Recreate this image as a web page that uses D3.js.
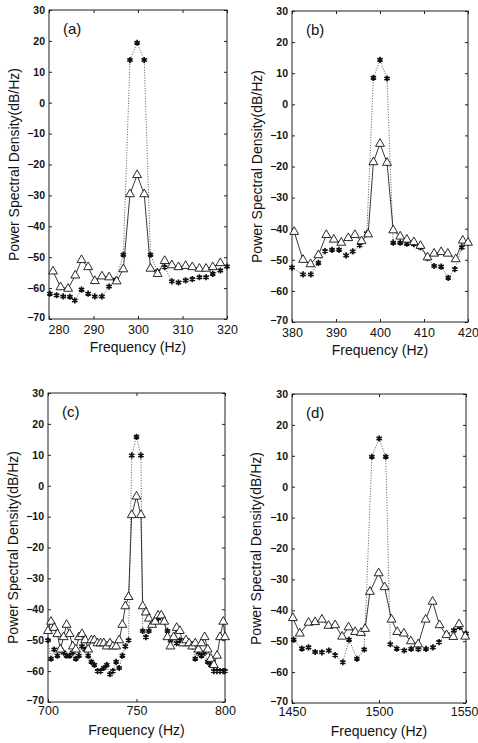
<!DOCTYPE html>
<html>
<head>
<meta charset="utf-8">
<script src="https://cdn.jsdelivr.net/npm/d3@7"></script>
<style>
  body { margin: 0; background: #fff; }
  svg { display: block; font-family: Arial, "Liberation Sans", sans-serif; }
</style>
</head>
<body>
<div id="chart"></div>
<script>
// tick values
var yTicks = [-70, -60, -50, -40, -30, -20, -10, 0, 10, 20, 30];
var xTicksA = [280, 290, 300, 310, 320];
var xTicksB = [380, 390, 400, 410, 420];
var xTicksC = [700, 750, 800];
var xTicksD = [1450, 1500, 1550];

// (a) 300 Hz
var aTriFreq = [280.9, 282.6, 284.3, 285.9, 287.3, 288.8, 290.3, 291.9, 293.5, 295.2, 296.7, 298.2, 299.8, 301.4, 302.8, 304.4, 306, 307.6, 309.1, 310.7, 312.2, 313.8, 315.3, 316.8, 318.5];
var aTriDb   = [-54.6, -59.7, -60.2, -55.9, -50.9, -53.2, -57.7, -56.2, -56.5, -57.8, -53.9, -29.6, -23.4, -29.6, -53.7, -55.4, -51.2, -52.6, -53.2, -52.8, -53.2, -53.7, -53.7, -53.2, -51.9];
var aStarFreq = [280.2, 281.7, 283.2, 284.7, 285.8, 287.3, 288.8, 290.3, 291.9, 293.5, 295, 296.7, 298.2, 299.8, 301.4, 302.8, 304.4, 306, 307.6, 309.1, 310.7, 312.2, 313.8, 315.3, 316.8, 318.5, 320];
var aStarDb   = [-61.8, -62.3, -62.7, -62.8, -64, -60.5, -61.8, -62.7, -62.7, -59.5, -57.3, -49.2, 13.8, 19.4, 13.8, -49.2, -54.6, -53.2, -57.8, -58.2, -57.5, -57.1, -56.5, -56.5, -55.4, -54.3, -53];

// (b) 400 Hz
var bTriFreq = [380.5, 382.5, 384.2, 386, 387.8, 389.5, 391.2, 392.8, 394.3, 395.8, 397.3, 398.5, 400, 401.6, 403, 404.6, 406.1, 407.7, 409.2, 410.8, 412.3, 413.9, 415.4, 417.2, 418.8, 420];
var bTriDb   = [-41, -50, -51.4, -48.5, -42, -43.5, -44.5, -43, -42, -44, -41.8, -18.6, -12.7, -18.8, -40.5, -42.5, -43.5, -44.3, -45.5, -49.2, -48, -47.5, -48, -49.8, -43.8, -44.5];
var bStarFreq = [380, 382.5, 384.3, 386, 387.5, 389.1, 390.7, 392.3, 393.8, 395.4, 397, 398.5, 400, 401.6, 403, 404.6, 406.1, 407.7, 409.2, 410.8, 412.3, 413.9, 415.5, 417, 418.6, 420];
var bStarDb   = [-52.5, -54.7, -54.7, -51, -47.2, -46.8, -46.8, -48.6, -47.3, -45.3, -41.5, 8.5, 14.3, 8.3, -44.5, -44.5, -44.8, -45, -46, -49.5, -52, -52.2, -55.8, -53, -46, -44.5];

// (c) 750 Hz
var cFreq = [700, 701.7, 703.5, 705.3, 707, 708.8, 710.5, 712.2, 714, 715.7, 717.5, 719.2, 721, 722.7, 724.5, 726.2, 728, 729.7, 731.5, 733.2, 735, 736.7, 738.5, 740.2, 742, 743.7, 745.5, 747.3, 750, 752.5, 753.5, 755.3, 757, 758.8, 760.5, 762.2, 764, 765.7, 767.5, 769.2, 771, 772.7, 774.5, 776.2, 778, 779.7, 781.5, 783.2, 785, 786.7, 788.5, 790.2, 792, 793.7, 795.5, 797.2, 799, 800];
var cTriDb  = [-47, -44, -46, -48, -53, -49, -45, -48, -52, -53, -49, -48, -50, -53, -50, -50, -51, -51, -51, -52, -51, -52, -52, -50, -45, -39, -36, -9.5, -3.5, -9.5, -39, -41, -43, -45, -44, -42, -42, -44, -49, -52, -49, -46, -47, -51, -50, -51, -52, -51, -53, -51, -49, -53, -56, -58, -55, -49, -44, -49];
var cStarDb = [-50, -56, -53, -55, -53, -54, -55, -55, -54, -56, -55, -52, -53, -55, -57, -58, -60, -60, -59, -58, -61, -60, -57, -59, -55, -52, -50, 9.8, 15.8, 9.8, -47, -49, -47, -45, -44, -43, -42, -44, -47, -50, -49, -51, -50, -51, -50, -51, -52, -56, -54, -55, -54, -57, -58, -60, -60, -60, -60, -60];

// (d) 1500 Hz
var dTriFreq = [1450.5, 1454.5, 1459.5, 1463.3, 1467.2, 1471, 1474.8, 1478.8, 1482.5, 1486.3, 1489.6, 1492, 1494.8, 1499.8, 1503.2, 1507.2, 1510.5, 1514.3, 1518.3, 1522.5, 1526.8, 1530.8, 1534.8, 1538.8, 1542.7, 1546, 1549.5];
var dTriDb   = [-42.5, -47.5, -44, -43.8, -43, -45, -44.8, -48.5, -45.5, -47, -47.3, -46, -34, -28, -32.5, -43, -47, -47.5, -50, -51, -43, -37.2, -44.8, -48, -48.6, -44.5, -48.5];
var dStarFreq = [1451, 1455.7, 1459.5, 1463.3, 1467.2, 1471.2, 1474.8, 1479.2, 1482.8, 1487.3, 1491.5, 1495.9, 1500.1, 1503.9, 1506.5, 1510.2, 1514.5, 1518.5, 1522.6, 1527, 1531, 1534.5, 1539, 1543, 1546.5, 1550];
var dStarDb   = [-49.5, -52.4, -52, -53.5, -53.6, -53, -54.5, -56.8, -49.5, -55.7, -52.7, 9.7, 15.6, 9.7, -51, -52.4, -53, -52.5, -52.6, -52.5, -52, -50.3, -47.8, -46.5, -45.5, -47.5];

var width = 478, height = 743;

var svg = d3.select("#chart").append("svg")
    .attr("width", width)
    .attr("height", height);

var panels = [
    {label: "(a)", x0: 49, x1: 227, y0: 10, y1: 319, dom: [280, 320], ticks: xTicksA,
     tri: [aTriFreq, aTriDb], star: [aStarFreq, aStarDb], titleX: 14},
    {label: "(b)", x0: 292, x1: 468, y0: 11, y1: 322, dom: [380, 420], ticks: xTicksB,
     tri: [bTriFreq, bTriDb], star: [bStarFreq, bStarDb], titleX: 257},
    {label: "(c)", x0: 48, x1: 225, y0: 393, y1: 702, dom: [700, 800], ticks: xTicksC,
     tri: [cFreq, cTriDb], star: [cFreq, cStarDb], titleX: 13},
    {label: "(d)", x0: 292, x1: 466, y0: 394, y1: 703, dom: [1450, 1550], ticks: xTicksD,
     tri: [dTriFreq, dTriDb], star: [dStarFreq, dStarDb], titleX: 256}
];

function zipPts(f, v) {
    return f.map(function(d, i) { return [d, v[i]]; });
}

panels.forEach(function(p, pi) {
    var x = d3.scaleLinear().domain(p.dom).range([p.x0, p.x1]);
    var y = d3.scaleLinear().domain([-70, 30]).range([p.y1, p.y0]);
    var g = svg.append("g");

    // frame
    g.append("rect")
        .attr("x", p.x0).attr("y", p.y0)
        .attr("width", p.x1 - p.x0).attr("height", p.y1 - p.y0)
        .attr("fill", "none").attr("stroke", "#222").attr("stroke-width", 1);

    // axes, ticks pointing inward
    var left = g.append("g")
        .attr("transform", "translate(" + p.x0 + ",0)")
        .call(d3.axisLeft(y).tickValues(yTicks).tickSize(-3).tickPadding(4));
    left.selectAll("text").style("font-size", "10.5px").style("font-weight", "bold").attr("fill", "#111");
    // pull the bottom label up a touch so it clears the frequency ticks
    left.selectAll("text").filter(function(d) { return d === -70; }).attr("dy", "0.1em");

    g.append("g")
        .attr("transform", "translate(" + p.x1 + ",0)")
        .call(d3.axisRight(y).tickValues(yTicks).tickSize(-3).tickFormat(""));

    var bottom = g.append("g")
        .attr("transform", "translate(0," + p.y1 + ")")
        .call(d3.axisBottom(x).tickValues(p.ticks).tickSize(-3).tickPadding(pi < 2 ? 6 : 4).tickFormat(d3.format("d")));
    bottom.selectAll("text").style("font-size", "12.5px").attr("fill", "#111");
    if (pi === 0) {
        bottom.selectAll("text").filter(function(d) { return d === 280; })
            .attr("text-anchor", "start").attr("dx", "-1");
    }
    if (pi === 3) {
        bottom.selectAll("text").filter(function(d) { return d === 1550; })
            .attr("text-anchor", "end").attr("dx", "12");
    }

    g.append("g")
        .attr("transform", "translate(0," + p.y0 + ")")
        .call(d3.axisTop(x).tickValues(p.ticks).tickSize(-3).tickFormat(""));

    g.selectAll(".domain").remove();
    g.selectAll(".tick line").attr("stroke", "#222");

    // titles
    g.append("text")
        .attr("x", (p.x0 + p.x1) / 2)
        .attr("y", p.y1 + 33)
        .attr("text-anchor", "middle")
        .style("font-size", "14px")
        .attr("fill", "#111")
        .text("Frequency (Hz)");

    g.append("text")
        .attr("transform", "translate(" + (p.titleX + 5) + "," + ((p.y0 + p.y1) / 2) + ") rotate(-90)")
        .attr("text-anchor", "middle")
        .style("font-size", "14px")
        .attr("fill", "#111")
        .text("Power Spectral Density(dB/Hz)");

    g.append("text")
        .attr("x", p.x0 + 14)
        .attr("y", p.y0 + 24)
        .style("font-size", "15px")
        .attr("fill", "#111")
        .text(p.label);

    var line = d3.line().x(function(d) { return x(d[0]); }).y(function(d) { return y(d[1]); });
    var starPts = zipPts(p.star[0], p.star[1]);
    var triPts = zipPts(p.tri[0], p.tri[1]);

    // star series, dotted
    g.append("path")
        .datum(starPts)
        .attr("d", line)
        .attr("fill", "none")
        .attr("stroke", "#444")
        .attr("stroke-width", 0.9)
        .attr("stroke-dasharray", "1,1.6");

    g.selectAll(".star")
        .data(starPts)
        .enter()
        .append("path")
        .attr("class", "star")
        .attr("transform", function(d) { return "translate(" + x(d[0]) + "," + y(d[1]) + ")"; })
        .attr("d", d3.symbol(d3.symbolAsterisk, 26))
        .attr("fill", "none")
        .attr("stroke", "#111")
        .attr("stroke-width", 1.7);

    // triangle series, solid
    g.append("path")
        .datum(triPts)
        .attr("d", line)
        .attr("fill", "none")
        .attr("stroke", "#222")
        .attr("stroke-width", 0.9);

    g.selectAll(".tri")
        .data(triPts)
        .enter()
        .append("path")
        .attr("class", "tri")
        .attr("transform", function(d) { return "translate(" + x(d[0]) + "," + y(d[1]) + ")"; })
        .attr("d", d3.symbol(d3.symbolTriangle, 34))
        .attr("fill", "#fff")
        .attr("stroke", "#111")
        .attr("stroke-width", 0.9);
});
</script>
</body>
</html>
